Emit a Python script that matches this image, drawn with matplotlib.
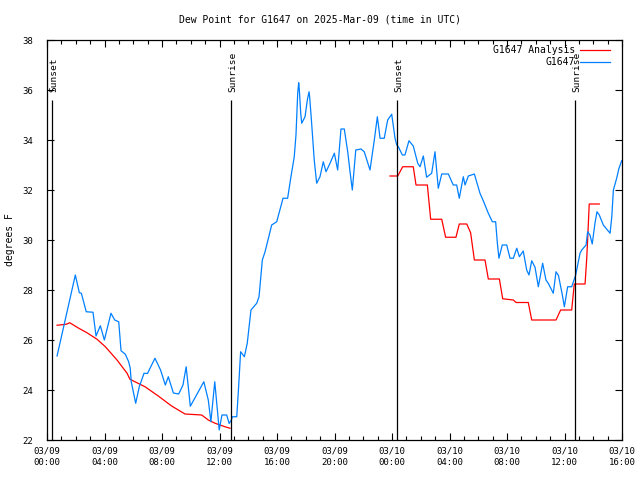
import numpy as np
import matplotlib
matplotlib.use("Agg")
import matplotlib.pyplot as plt
from matplotlib.ticker import MultipleLocator

# hours since 2025-03-09 00:00 UTC
analysis_hours = [0.70, 1.34, 1.58, 2.21, 2.78, 3.48, 4.06, 4.87, 5.57, 5.77, 6.12, 6.82,
                  7.74, 8.67, 9.60, 10.76, 11.22, 11.69, 12.38, 12.73,
                  np.nan,
                  23.86, 24.40, 24.74, 25.48, 25.67, 26.46, 26.69, 27.46, 27.73, 28.45,
                  28.68, 29.20, 29.47, 29.73, 30.47, 30.70, 31.47, 31.70, 32.44, 32.63,
                  33.48, 33.72, 35.41, 35.73, 36.50, 36.68, 37.43, 37.55, 37.60, 37.72, 38.42]
analysis_vals = [26.59, 26.63, 26.69, 26.47, 26.29, 26.03, 25.73, 25.20, 24.67, 24.43, 24.33, 24.13,
                 23.76, 23.36, 23.04, 23.00, 22.80, 22.67, 22.53, 22.47,
                 np.nan,
                 32.56, 32.56, 32.93, 32.93, 32.20, 32.20, 30.83, 30.83, 30.11, 30.11,
                 30.64, 30.64, 30.29, 29.20, 29.20, 28.44, 28.44, 27.65, 27.60, 27.50,
                 27.50, 26.80, 26.80, 27.20, 27.20, 28.24, 28.24, 29.30, 29.90, 31.44, 31.44]

obs_hours = [0.70, 1.97, 2.25, 2.39, 2.73, 3.20, 3.41, 3.71, 3.99, 4.45, 4.71, 4.99, 5.15, 5.45,
             5.68, 5.79, 5.86, 6.17, 6.42, 6.75, 6.99, 7.51, 7.90, 8.23, 8.44, 8.79, 9.16, 9.46,
             9.68, 9.97, 10.91, 11.22, 11.40, 11.67, 11.81, 11.98, 12.17, 12.50, 12.67, 12.83,
             12.89, 13.20, 13.31, 13.47, 13.73, 13.93, 14.19, 14.59, 14.75, 14.98, 15.17, 15.63,
             15.98, 16.42, 16.74, 16.97, 17.20, 17.32, 17.44, 17.51, 17.55, 17.65, 17.72, 17.95,
             18.11, 18.23, 18.27, 18.41, 18.59, 18.76, 18.99, 19.22, 19.41, 19.69, 19.99, 20.22,
             20.45, 20.68, 20.92, 21.08, 21.24, 21.48, 21.84, 22.07, 22.47, 22.77, 22.98, 23.17,
             23.46, 23.70, 23.98, 24.21, 24.33, 24.44, 24.72, 24.90, 25.18, 25.48, 25.79, 25.95,
             26.18, 26.41, 26.76, 26.99, 27.22, 27.46, 27.92, 28.26, 28.50, 28.68, 28.96, 29.08,
             29.31, 29.73, 30.12, 30.35, 30.70, 30.98, 31.21, 31.33, 31.44, 31.67, 31.98, 32.21,
             32.44, 32.68, 32.86, 33.13, 33.37, 33.53, 33.72, 33.95, 34.18, 34.48, 34.71, 34.87,
             35.22, 35.41, 35.58, 35.85, 35.99, 36.22, 36.50, 36.78, 37.08, 37.20, 37.50, 37.61,
             37.77, 37.93, 38.12, 38.26, 38.42, 38.70, 39.17, 39.29, 39.40, 39.63, 39.79, 39.98]
obs_vals = [25.36, 28.60, 27.89, 27.87, 27.13, 27.11, 26.16, 26.57, 26.00, 27.07, 26.80, 26.73, 25.57, 25.43,
            25.13, 24.87, 24.33, 23.47, 24.13, 24.67, 24.66, 25.27, 24.80, 24.20, 24.53, 23.88, 23.84, 24.20,
            24.93, 23.35, 24.33, 23.60, 22.73, 24.33, 23.44, 22.40, 23.00, 23.00, 22.66, 22.80,
            22.93, 22.93, 23.93, 25.53, 25.33, 25.87, 27.20, 27.47, 27.73, 29.20, 29.53, 30.60,
            30.73, 31.67, 31.67, 32.53, 33.33, 34.20, 35.87, 36.29, 36.03, 35.07, 34.67, 34.93,
            35.60, 35.93, 35.73, 34.67, 33.20, 32.27, 32.53, 33.13, 32.73, 33.07, 33.47, 32.80,
            34.44, 34.44, 33.53, 32.73, 32.00, 33.60, 33.64, 33.53, 32.80, 34.00, 34.93, 34.07,
            34.07, 34.80, 35.03, 34.07, 33.80, 33.73, 33.40, 33.40, 33.97, 33.76, 33.07, 32.93,
            33.36, 32.51, 32.67, 33.53, 32.07, 32.64, 32.64, 32.20, 32.20, 31.67, 32.53, 32.20,
            32.56, 32.64, 31.87, 31.57, 31.07, 30.73, 30.73, 29.87, 29.27, 29.80, 29.80, 29.27,
            29.27, 29.67, 29.33, 29.56, 28.80, 28.60, 29.17, 28.91, 28.13, 29.07, 28.40, 28.27,
            27.87, 28.73, 28.58, 27.80, 27.33, 28.13, 28.13, 28.60, 29.47, 29.60, 29.80, 30.33,
            30.20, 29.84, 30.67, 31.13, 31.00, 30.60, 30.27, 30.93, 32.00, 32.47, 32.87, 33.17]

sun_hours = [0.35, 12.80, 24.35, 36.73]
sun_labels = ["Sunset", "Sunrise", "Sunset", "Sunrise"]

tick_hours = list(range(0, 41, 4))
tick_labels = ["03/09\n00:00", "03/09\n04:00", "03/09\n08:00", "03/09\n12:00", "03/09\n16:00",
               "03/09\n20:00", "03/10\n00:00", "03/10\n04:00", "03/10\n08:00", "03/10\n12:00",
               "03/10\n16:00"]

plt.rcParams['font.family'] = ['DejaVu Sans Mono']

fig = plt.figure(figsize=(6.4, 4.8), dpi=100)
ax = fig.add_axes([47 / 640, 40 / 480, 575 / 640, 400 / 480])

ax.plot(analysis_hours, analysis_vals, color="#ff0000", lw=0.9)
ax.plot(obs_hours, obs_vals, color="#0080ff", lw=0.9)

for h, lab in zip(sun_hours, sun_labels):
    ax.vlines(h, 22, 35.6, color="black", lw=0.9)
    ax.text(h + 0.12, 35.92, lab, rotation=90, ha="center", va="bottom", fontsize=6.8)

ax.set_xlim(0, 40)
ax.set_ylim(22, 38)
ax.set_xticks(tick_hours)
ax.set_xticklabels(tick_labels, fontsize=6.5, linespacing=1.35)
ax.xaxis.set_minor_locator(MultipleLocator(1))
ax.set_yticks(range(22, 39, 2))
ax.tick_params(axis="y", labelsize=6.5, pad=10)
ax.tick_params(axis="x", pad=5)
ax.tick_params(which="both", direction="in", top=True, right=True, width=0.8)
ax.tick_params(which="major", length=5)
ax.tick_params(which="minor", length=3)
for s in ax.spines.values():
    s.set_linewidth(0.9)

fig.text(10 / 640, 0.5, "degrees F", rotation=90, ha="center", va="center", fontsize=7)
fig.text(0.5, 1 - 19 / 480, "Dew Point for G1647 on 2025-Mar-09 (time in UTC)",
         ha="center", va="center", fontsize=7)

# legend, gnuplot style: right-aligned text, sample line to the right
ax.text(0.918, 0.975, "G1647 Analysis", transform=ax.transAxes, ha="right", va="center", fontsize=7)
ax.text(0.918, 0.945, "G1647", transform=ax.transAxes, ha="right", va="center", fontsize=7)
ax.plot([0.927, 0.979], [0.975, 0.975], color="#ff0000", lw=0.9, transform=ax.transAxes)
ax.plot([0.927, 0.979], [0.945, 0.945], color="#0080ff", lw=0.9, transform=ax.transAxes)

fig.savefig("out.png", dpi=100)
